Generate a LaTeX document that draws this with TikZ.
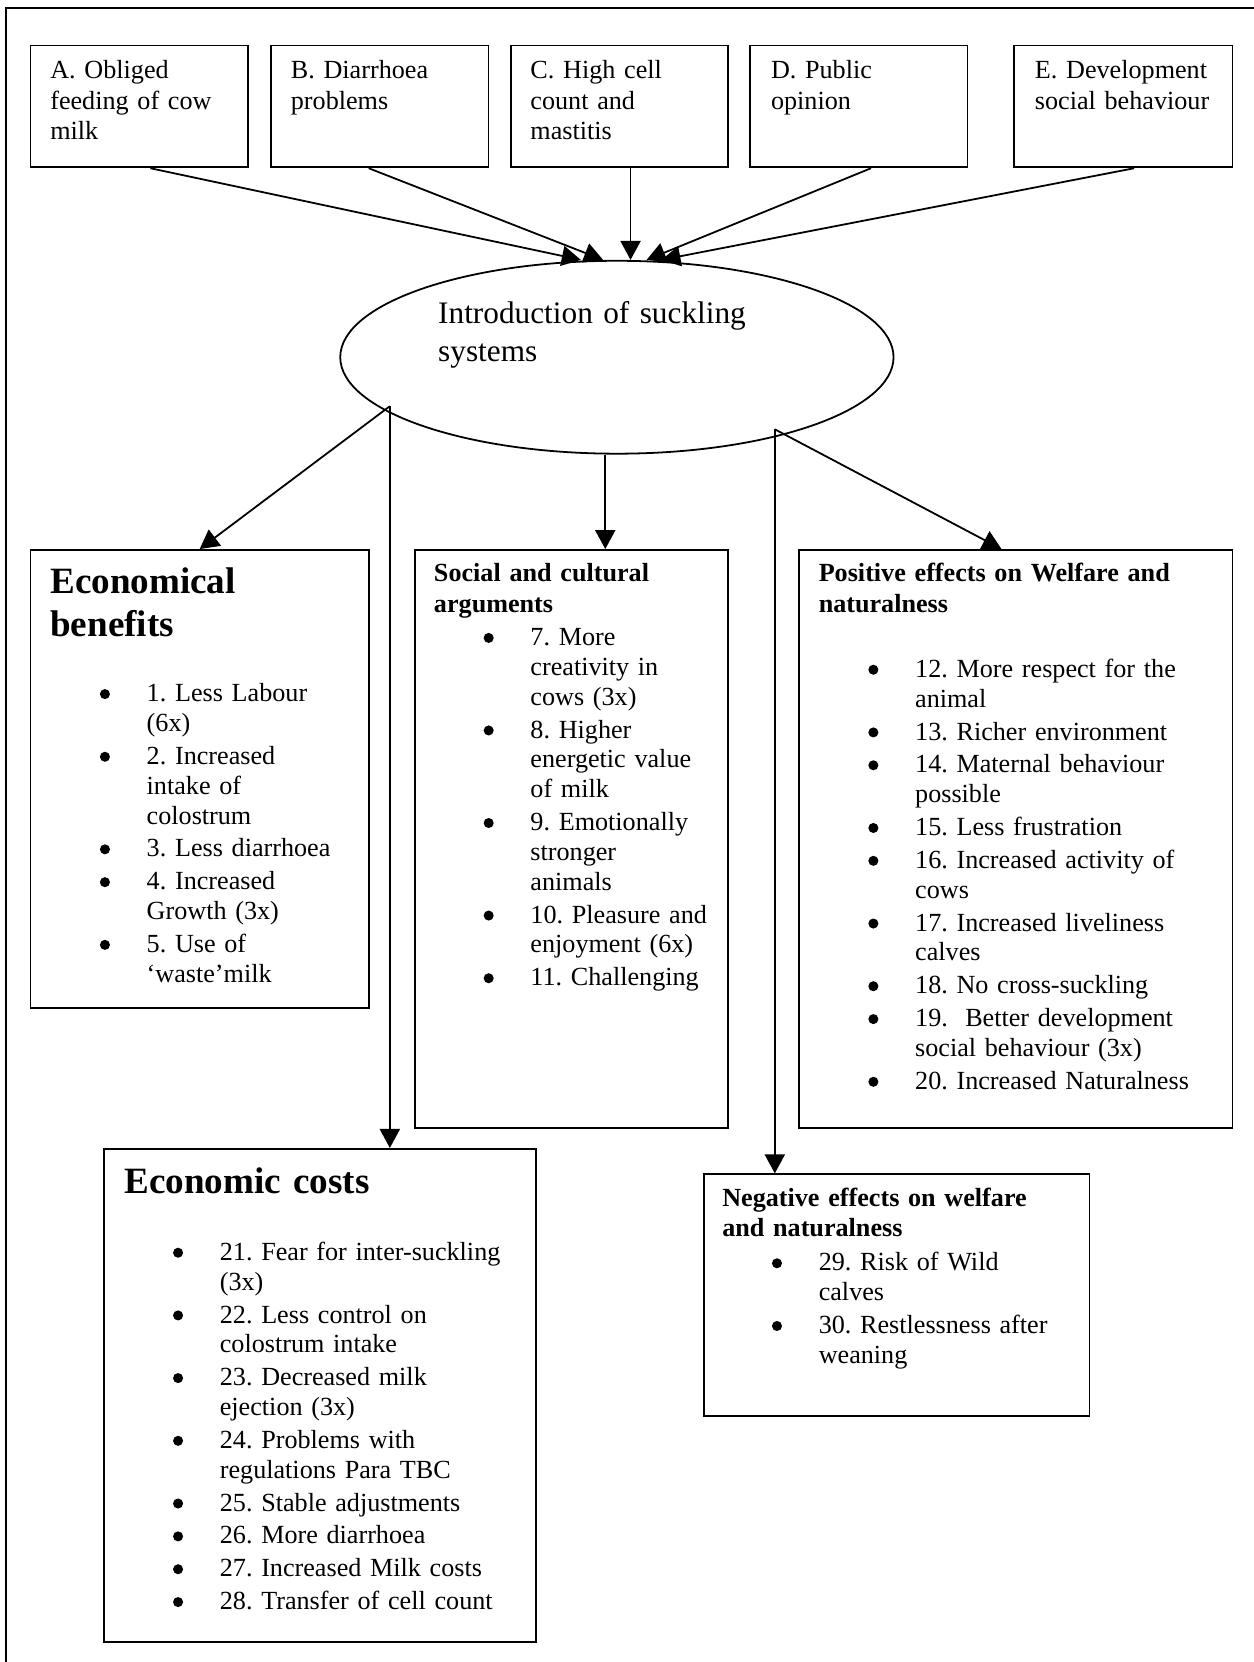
\documentclass[tikz,border=0pt]{standalone}
\usepackage{fontspec}
\setmainfont{Liberation Serif}
\usepackage{tikz}
\usetikzlibrary{positioning, arrows.meta, shapes.geometric, calc}

% round bullet and one bullet line of a list
\newcommand{\bul}{\tikz[baseline=0pt]\fill (0,3.4pt) circle (2.25pt);}
\newcommand{\itm}[1]{\noindent\llap{\bul\hspace{16.45pt}}#1\par\vskip1.35pt}

\frenchspacing

\begin{document}
\begin{tikzpicture}[
        box/.style={draw, rectangle, line width=0.8pt, anchor=north west, inner sep=0pt},
        topbox/.style={box, minimum width=3.417cm, minimum height=1.917cm},
        txt/.style={anchor=base west, inner sep=0pt, text width=7cm, font=\fontsize{11.7pt}{13.5pt}\selectfont},
        lst/.style={txt, font=\fontsize{11.7pt}{13.35pt}\selectfont},
        head/.style={txt, font=\fontsize{11.7pt}{13.7pt}\selectfont\bfseries},
        bighead/.style={txt, font=\fontsize{16.6pt}{19.6pt}\selectfont\bfseries},
        arr/.style={-{Triangle[length=8.5pt,width=9pt]}, line width=0.8pt}
    ]
    \useasboundingbox (0,0) rectangle (19.717,-26.133);

    % outer frame (only left and top side are on the page)
    \draw[line width=0.8pt] (0.094,-26.133) |- (19.717,-0.126);

    % --- Row 1: the five reasons ---
    \node[topbox] (A) at (0.467,-0.7) {};
    \node[topbox] (B) at (4.25,-0.7) {};
    \node[topbox] (C) at (8.017,-0.7) {};
    \node[topbox] (D) at (11.783,-0.7) {};
    \node[topbox, minimum width=3.433cm] (E) at (15.933,-0.7) {};

    \node[txt] (A-txt) at ([shift={(0.317,-0.542)}]A.north west) {A. Obliged\\feeding of cow\\milk};
    \node[txt] (B-txt) at ([shift={(0.317,-0.542)}]B.north west) {B. Diarrhoea\\problems};
    \node[txt] (C-txt) at ([shift={(0.317,-0.542)}]C.north west) {C. High cell\\count and\\mastitis};
    \node[txt] (D-txt) at ([shift={(0.333,-0.542)}]D.north west) {D. Public\\opinion};
    \node[txt] (E-txt) at ([shift={(0.333,-0.542)}]E.north west) {E. Development\\social behaviour};

    % --- Row 2: the ellipse ---
    \node[draw, ellipse, line width=0.8pt, minimum width=8.7cm, minimum height=3.033cm, inner sep=0pt] (intro) at (9.7,-5.617) {};
    \node[txt, font=\fontsize{14pt}{16.8pt}\selectfont] (intro-txt) at ([shift={(-2.817,0.523)}]intro.center) {Introduction of suckling\\systems};

    % --- Row 3: benefits, social, positive ---
    \node[box, minimum width=5.317cm, minimum height=7.2cm] (benefits) at (0.467,-8.633) {};
    \node[box, minimum width=4.917cm, minimum height=9.083cm] (social) at (6.517,-8.633) {};
    \node[box, minimum width=6.817cm, minimum height=9.083cm] (positive) at (12.55,-8.633) {};

    \node[bighead] (benefits-title) at ([shift={(0.317,-0.693)}]benefits.north west) {Economical\\benefits};
    \node[lst] (benefits-list) at ([shift={(1.833,-2.4)}]benefits.north west) {%
        \itm{1. Less Labour\\(6x)}
        \itm{2. Increased\\intake of\\colostrum}
        \itm{3. Less diarrhoea}
        \itm{4. Increased\\Growth (3x)}
        \itm{5. Use of\\‘waste’milk}};

    \node[head] (social-title) at ([shift={(0.3,-0.517)}]social.north west) {Social and cultural\\arguments};
    \node[lst] (social-list) at ([shift={(1.817,-1.517)}]social.north west) {%
        \itm{7. More\\creativity in\\cows (3x)}
        \itm{8. Higher\\energetic value\\of milk}
        \itm{9. Emotionally\\stronger\\animals}
        \itm{10. Pleasure and\\enjoyment (6x)}
        \itm{11. Challenging}};

    \node[head] (positive-title) at ([shift={(0.317,-0.517)}]positive.north west) {Positive effects on Welfare and\\naturalness};
    \node[lst] (positive-list) at ([shift={(1.833,-2.017)}]positive.north west) {%
        \itm{12. More respect for the\\animal}
        \itm{13. Richer environment}
        \itm{14. Maternal behaviour\\possible}
        \itm{15. Less frustration}
        \itm{16. Increased activity of\\cows}
        \itm{17. Increased liveliness\\calves}
        \itm{18. No cross-suckling}
        \itm{19.\ \ Better development\\social behaviour (3x)}
        \itm{20. Increased Naturalness}};

    % --- Row 4: costs and negative effects ---
    \node[box, minimum width=6.8cm, minimum height=7.75cm] (costs) at (1.617,-18.05) {};
    \node[box, minimum width=6.067cm, minimum height=3.8cm] (negative) at (11.05,-18.45) {};

    \node[bighead] (costs-title) at ([shift={(0.333,-0.717)}]costs.north west) {Economic costs};
    \node[lst] (costs-list) at ([shift={(1.833,-1.767)}]costs.north west) {%
        \itm{21. Fear for inter-suckling\\(3x)}
        \itm{22. Less control on\\colostrum intake}
        \itm{23. Decreased milk\\ejection (3x)}
        \itm{24. Problems with\\regulations Para TBC}
        \itm{25. Stable adjustments}
        \itm{26. More diarrhoea}
        \itm{27. Increased Milk costs}
        \itm{28. Transfer of cell count}};

    \node[head] (negative-title) at ([shift={(0.3,-0.517)}]negative.north west) {Negative effects on welfare\\and naturalness};
    \node[lst] (negative-list) at ([shift={(1.817,-1.533)}]negative.north west) {%
        \itm{29. Risk of Wild\\calves}
        \itm{30. Restlessness after\\weaning}};

    % --- Arrows into the ellipse ---
    \draw[arr] ([xshift=0.175cm]A.south) -- ([xshift=-0.567cm]intro.north);
    \draw[arr] ([xshift=-0.175cm]B.south) -- ([xshift=-0.217cm]intro.north);
    \draw[arr] ([xshift=0.175cm]C.south) -- ([xshift=0.175cm]C.south |- intro.north);
    \draw[arr] ([xshift=0.19cm]D.south) -- ([xshift=0.467cm]intro.north);
    \draw[arr] ([xshift=0.17cm]E.south) -- ([xshift=0.7cm]intro.north);

    % --- Arrows out of the ellipse ---
    \coordinate (splitL) at ($(intro.center)+(-3.57,-0.77)$);
    \coordinate (splitR) at ($(intro.center)+(2.483,-1.133)$);
    \draw[arr] (splitL) -- (benefits.north);
    \draw[arr] (splitL) -- (splitL |- costs.north);
    \draw[arr] ([xshift=-0.183cm]intro.south) -- ([xshift=-0.183cm]intro.south |- social.north);
    \draw[arr] (splitR) -- (splitR |- negative.north);
    \draw[arr] (splitR) -- ([xshift=-0.225cm]positive.north);

\end{tikzpicture}
\end{document}
